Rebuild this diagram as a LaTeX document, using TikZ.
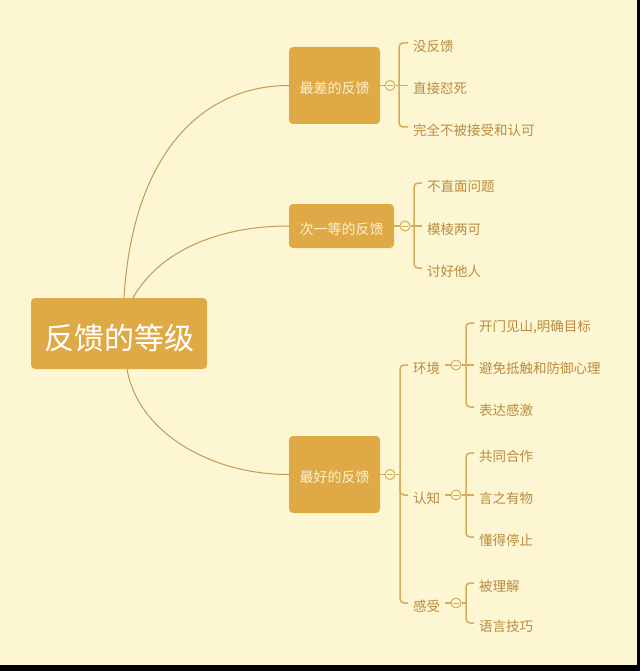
\documentclass[tikz,border=0pt]{standalone}
\usepackage{fontspec}
\setmainfont{Noto Sans CJK SC}
\definecolor{bg}{HTML}{FCF6D2}
\definecolor{boxfill}{HTML}{DFAA46}
\definecolor{boxtext}{HTML}{FBF1D4}
\definecolor{leaftext}{HTML}{B98C40}
\definecolor{bline}{HTML}{D6AC5A}
\definecolor{cline}{HTML}{C29A56}
\tikzset{
  rootbox/.style={fill=boxfill, rounded corners=4pt, text=white, font=\fontsize{30pt}{32pt}\selectfont,
    text height=32.8pt, text depth=0pt, inner sep=0pt, minimum width=176pt, minimum height=71pt},
  topicbox/.style={fill=boxfill, rounded corners=4pt, text=boxtext, font=\fontsize{14pt}{16pt}\selectfont,
    text height=16.6pt, text depth=0pt, inner sep=0pt},
  leaf/.style={anchor=west, text=leaftext, font=\fontsize{13.5pt}{15pt}\selectfont,
    text height=16.2pt, text depth=0pt, inner xsep=5pt, inner ysep=0pt},
  fold/.style={circle, draw=bline, fill=bg, line width=1pt, minimum size=10pt, inner sep=0pt,
    path picture={\draw[bline, line width=0.9pt] ([xshift=-2.6pt]path picture bounding box.center) -- ([xshift=2.6pt]path picture bounding box.center);}},
  brk/.style={draw=bline, line width=1.5pt},
  brkr/.style={draw=bline, line width=1.5pt, rounded corners=4pt},
  curve/.style={draw=cline, line width=1pt}
}
\begin{document}
\begin{tikzpicture}[x=1pt,y=-1pt]
\useasboundingbox (0,0) rectangle (640,671);
\fill[black] (0,0) rectangle (640,671);
\fill[bg] (0,0) rectangle (637,665);

% main nodes
\node[rootbox] (root) at (119,333.5) {反馈的等级};
\node[topicbox, minimum width=91pt, minimum height=77pt] (b1) at (334.5,85.5) {最差的反馈};
\node[topicbox, minimum width=105pt, minimum height=44pt] (b2) at (341.5,226) {次一等的反馈};
\node[topicbox, minimum width=91pt, minimum height=77pt] (b3) at (334.5,474.5) {最好的反馈};

% curves from root
\draw[curve] ([xshift=5pt]root.north) .. controls (133,150) and (205,85.5) .. (b1.west);
\draw[curve] ([xshift=14pt]root.north) .. controls (160,250) and (220,226) .. (b2.west);
\draw[curve] ([xshift=8pt]root.south) .. controls (138,432) and (210,474.5) .. (b3.west);

% fold circles
\node[fold] (c1) at (390,85.5) {};
\node[fold] (c2) at (405,226) {};
\node[fold] (c3) at (390,474.5) {};
\coordinate (j1) at (399,85.5);
\coordinate (j2) at (414,226);
\coordinate (j3) at (400,474.5);

% box1 leaves
\node[leaf] (l11) at (408,43) {没反馈};
\node[leaf] (l12) at (408,85.5) {直接怼死};
\node[leaf] (l13) at (408,127) {完全不被接受和认可};
% box2 leaves
\node[leaf] (l21) at (422,183) {不直面问题};
\node[leaf] (l22) at (422,226) {模棱两可};
\node[leaf] (l23) at (422,268) {讨好他人};
% box3 children
\node[leaf] (k1) at (408,365) {环境};
\node[leaf] (k2) at (408,495) {认知};
\node[leaf] (k3) at (408,603) {感受};
\node[fold] (d1) at (456,365) {};
\node[fold] (d2) at (456,495) {};
\node[fold] (d3) at (456,603) {};
\coordinate (e1) at (466,365);
\coordinate (e2) at (466,495);
\coordinate (e3) at (466,603);
% grandchildren
\node[leaf] (m11) at (474,323) {开门见山,明确目标};
\node[leaf] (m12) at (474,365) {避免抵触和防御心理};
\node[leaf] (m13) at (474,407) {表达感激};
\node[leaf] (m21) at (474,453) {共同合作};
\node[leaf] (m22) at (474,495) {言之有物};
\node[leaf] (m23) at (474,537) {懂得停止};
\node[leaf] (m31) at (474,583) {被理解};
\node[leaf] (m32) at (474,623) {语言技巧};

% box -> fold connectors
\draw[brk] (b1.east) -- (c1.west);
\draw[brk] (b2.east) -- (c2.west);
\draw[brk] (b3.east) -- (c3.west);
\draw[brk] (c1.east) -- (j1);
\draw[brk] (c2.east) -- (j2);
\draw[brk] (c3.east) -- (j3);

% box1 brackets
\draw[brkr] (j1) |- (l11.west);
\draw[brk] (j1) -- (l12.west);
\draw[brkr] (j1) |- (l13.west);
% box2 brackets
\draw[brkr] (j2) |- (l21.west);
\draw[brk] (j2) -- (l22.west);
\draw[brkr] (j2) |- (l23.west);
% box3 brackets
\draw[brkr] (j3) |- (k1.west);
\draw[brkr] (j3) |- (k2.west);
\draw[brkr] (j3) |- (k3.west);

% child -> fold
\draw[brk] (k1.east) -- (d1.west);
\draw[brk] (k2.east) -- (d2.west);
\draw[brk] (k3.east) -- (d3.west);
\draw[brk] (d1.east) -- (e1);
\draw[brk] (d2.east) -- (e2);
\draw[brk] (d3.east) -- (e3);

% grandchildren brackets
\draw[brkr] (e1) |- (m11.west);
\draw[brk] (e1) -- (m12.west);
\draw[brkr] (e1) |- (m13.west);
\draw[brkr] (e2) |- (m21.west);
\draw[brk] (e2) -- (m22.west);
\draw[brkr] (e2) |- (m23.west);
\draw[brkr] (e3) |- (m31.west);
\draw[brkr] (e3) |- (m32.west);
\end{tikzpicture}
\end{document}
